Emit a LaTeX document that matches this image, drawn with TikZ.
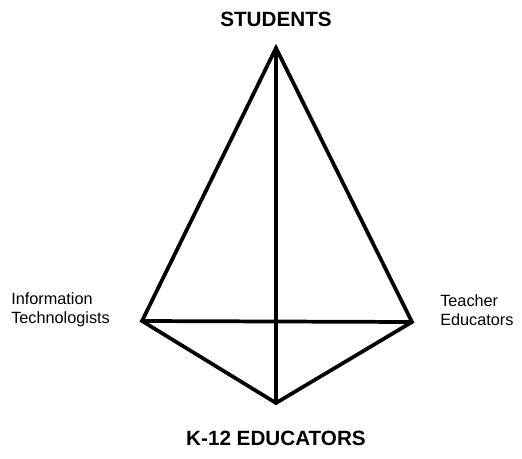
\documentclass[tikz,border=0pt]{standalone}
\usepackage{fontspec}
\setmainfont{Liberation Sans}
\begin{document}
\begin{tikzpicture}[x=0.75pt,y=-0.75pt]
		\tikzset{edge/.style={line width=2.8pt,line join=miter,line cap=round},
			big label/.style={font=\fontsize{15.5}{18}\selectfont\bfseries},
			small label/.style={font=\fontsize{12.2}{14.5}\selectfont,align=left,inner sep=0pt}}
		\useasboundingbox (0,0) rectangle (522,458);
		
		\coordinate (S) at (276,48);
		\coordinate (I) at (142,321);
		\coordinate (T) at (412,322);
		\coordinate (K) at (276,403);
		
		\draw[edge] (S) -- (I) -- (K) -- (T) -- cycle;
		\draw[edge] (S) -- (K);
		\draw[edge] (I) -- (T);
		
		\node[big label] (students) at (276,19) {STUDENTS};
		\node[big label] (k12) at (276,438) {K-12 EDUCATORS};
		\node[small label,anchor=west] (info) at (11,310) {Information\\Technologists};
		\node[small label,anchor=west] (teach) at (440,310) {Teacher\\Educators};
		\end{tikzpicture}
\end{document}
